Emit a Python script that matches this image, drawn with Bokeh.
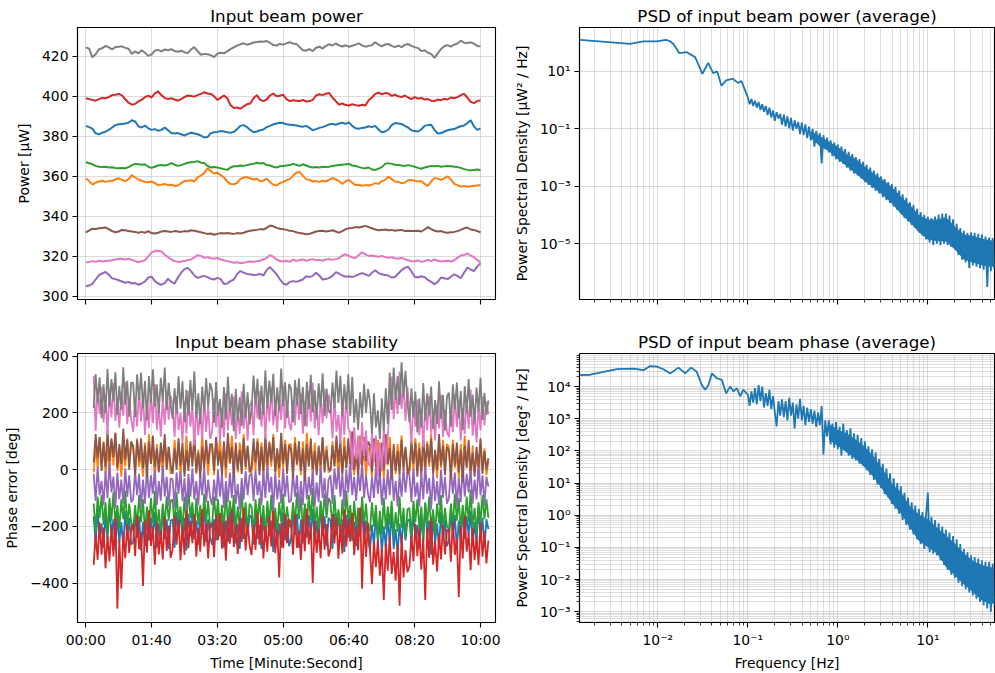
import numpy as np
from bokeh.plotting import figure
from bokeh.layouts import column, row
from bokeh.models import Range1d, FixedTicker, CustomJSTickFormatter
from bokeh.embed import file_html
from bokeh.resources import INLINE

FONT = "DejaVu Sans"
COLORS = ["#1f77b4", "#ff7f0e", "#2ca02c", "#d62728", "#9467bd", "#8c564b", "#e377c2", "#7f7f7f"]

# ---------------- data: input beam power (uW), sampled every 5 s ----------------
power_t = np.arange(0, 601, 5)
power_blue = [385.2, 384.6, 383.8, 381.5, 381.0, 381.8, 382.3, 383.2, 384.4, 385.6,
              386.0, 386.2, 386.4, 386.8, 388.0, 387.4, 385.0, 384.4, 385.4, 384.0,
              383.2, 383.6, 382.8, 383.2, 384.4, 383.0, 381.6, 381.4, 381.6, 381.0,
              380.4, 381.2, 381.8, 381.4, 381.0, 380.4, 379.4, 379.6, 381.6, 382.0,
              382.2, 382.6, 382.4, 382.0, 381.8, 382.2, 383.6, 385.2, 385.6, 384.6,
              383.2, 382.0, 382.4, 383.0, 383.4, 384.6, 385.2, 386.0, 386.4, 386.8,
              386.6, 386.0, 385.8, 385.6, 385.4, 385.0, 384.8, 385.2, 384.2, 383.0,
              383.6, 384.2, 384.6, 385.2, 386.0, 386.2, 385.8, 386.4, 386.8, 386.2,
              387.0, 385.2, 384.0, 383.8, 384.2, 384.4, 385.0, 384.6, 385.2, 383.4,
              382.0, 382.4, 383.4, 385.6, 386.6, 386.4, 386.2, 385.2, 384.4, 383.0,
              382.6, 382.4, 383.4, 385.2, 385.6, 385.8, 383.2, 381.4, 381.6, 382.4,
              383.0, 383.4, 383.6, 384.4, 385.0, 385.4, 386.6, 388.0, 385.0, 383.2,
              384.0]
power_orange = [359.0, 357.6, 355.8, 356.8, 357.4, 357.8, 357.2, 357.6, 357.8, 358.4,
                359.0, 358.2, 357.6, 358.6, 360.6, 359.4, 358.4, 357.8, 357.2, 357.0,
                357.4, 356.6, 355.6, 355.8, 356.2, 355.6, 355.8, 355.2, 355.4, 356.6,
                357.6, 357.8, 358.0, 357.4, 359.4, 360.4, 361.6, 364.0, 362.6, 361.4,
                361.8, 360.6, 359.4, 357.4, 356.2, 356.0, 356.6, 358.6, 359.4, 359.6,
                359.0, 358.4, 358.8, 357.6, 357.8, 358.8, 357.2, 355.8, 355.4, 356.6,
                357.2, 358.0, 358.6, 360.2, 361.8, 362.2, 360.2, 358.6, 358.2, 357.4,
                357.6, 357.2, 357.8, 357.4, 358.2, 359.2, 358.4, 357.6, 356.2, 357.4,
                358.2, 356.8, 355.6, 355.8, 355.2, 355.6, 355.4, 355.8, 356.6, 356.2,
                357.6, 358.2, 359.8, 358.6, 357.4, 357.2, 356.6, 356.8, 358.0, 358.2,
                357.8, 357.4, 357.6, 356.2, 355.2, 357.4, 359.2, 358.8, 358.2, 359.0,
                360.0, 358.4, 356.2, 355.6, 354.8, 355.2, 354.8, 355.0, 355.2, 355.4,
                355.6]
power_green = [367.0, 366.5, 366.0, 365.2, 364.8, 364.6, 364.8, 364.4, 364.5, 364.2,
               364.0, 364.1, 364.0, 364.6, 365.6, 366.2, 366.0, 365.8, 366.0, 364.8,
               364.2, 364.8, 365.4, 365.6, 365.4, 365.8, 366.6, 365.8, 365.2, 365.6,
               366.2, 366.8, 367.0, 367.2, 367.6, 366.8, 366.6, 365.2, 364.4, 364.6,
               364.4, 364.0, 363.6, 363.2, 364.4, 365.0, 365.0, 365.4, 365.2, 365.6,
               366.0, 366.2, 366.8, 366.4, 366.6, 365.6, 365.4, 364.8, 364.4, 365.0,
               365.2, 365.4, 365.6, 366.2, 365.8, 365.2, 366.0, 365.4, 364.8, 364.4,
               364.6, 364.4, 364.8, 364.6, 364.8, 365.2, 365.4, 365.6, 365.8, 366.0,
               366.2, 365.4, 365.2, 364.6, 364.2, 364.0, 364.4, 363.4, 363.2, 363.8,
               364.6, 366.2, 366.6, 366.2, 365.8, 365.6, 365.4, 365.2, 365.6, 365.2,
               364.8, 364.2, 363.8, 364.4, 364.8, 365.2, 365.0, 365.2, 364.8, 365.0,
               365.2, 365.0, 364.8, 364.6, 364.2, 363.6, 363.2, 363.0, 363.2, 363.4,
               363.0]
power_red = [399.0, 398.6, 398.2, 397.8, 398.6, 399.2, 399.0, 399.6, 400.6, 400.8,
             401.2, 400.5, 398.5, 396.8, 395.8, 396.2, 397.5, 398.2, 399.6, 400.3,
             399.4, 401.5, 402.4, 400.5, 399.2, 398.6, 399.0, 398.4, 397.8, 398.6,
             399.6, 400.4, 400.2, 399.8, 400.6, 401.2, 402.0, 401.4, 401.2, 400.0,
             398.2, 399.2, 400.4, 399.0, 395.6, 394.2, 394.4, 393.8, 395.0, 396.0,
             396.4, 399.0, 400.6, 398.2, 397.6, 398.4, 400.4, 401.4, 400.0, 400.3,
             400.8, 398.6, 397.6, 398.0, 397.8, 397.6, 398.2, 397.4, 397.6, 398.2,
             400.4, 401.0, 400.6, 401.3, 401.6, 399.4, 397.6, 395.8, 396.4, 395.6,
             395.4, 396.0, 395.6, 395.2, 395.8, 395.4, 398.0, 399.4, 401.2, 401.8,
             401.0, 401.6, 401.4, 400.2, 400.8, 400.0, 399.6, 400.4, 399.4, 398.6,
             399.6, 398.8, 399.2, 398.4, 398.6, 397.8, 397.6, 398.4, 398.0, 398.8,
             398.4, 399.4, 399.0, 399.6, 400.6, 401.2, 399.4, 397.2, 396.6, 397.6,
             398.0]
power_purple = [305.0, 305.4, 306.2, 308.4, 310.6, 311.4, 312.2, 310.8, 309.0, 308.6,
                308.0, 307.4, 306.8, 307.2, 306.4, 306.6, 305.8, 306.4, 307.4, 309.4,
                309.8, 307.6, 306.4, 305.8, 306.6, 308.8, 307.2, 306.4, 309.4, 311.8,
                313.6, 314.2, 312.6, 310.4, 309.2, 309.8, 310.2, 309.6, 308.8, 308.4,
                309.2, 308.6, 306.2, 306.4, 307.6, 308.4, 311.2, 312.6, 311.8, 311.2,
                311.0, 310.6, 310.8, 311.2, 310.4, 313.2, 314.6, 312.8, 311.0, 308.6,
                306.4, 305.8, 307.2, 307.6, 307.2, 307.8, 308.4, 310.0, 309.6, 310.2,
                311.8, 310.4, 308.4, 308.6, 309.2, 310.2, 312.0, 311.4, 310.4, 309.8,
                310.0, 309.6, 310.2, 311.0, 311.6, 311.0, 310.2, 311.8, 313.0, 311.6,
                311.0, 310.6, 310.4, 309.4, 309.6, 311.4, 313.0, 314.2, 314.8, 312.4,
                309.8, 309.4, 310.0, 309.6, 308.2, 307.2, 306.0, 307.2, 309.4, 309.0,
                308.6, 309.8, 311.0, 310.2, 309.0, 311.8, 314.4, 313.4, 312.6, 314.8,
                316.6]
power_brown = [332.0, 332.8, 333.8, 333.6, 334.0, 334.2, 334.4, 333.6, 332.6, 332.0,
               332.4, 333.2, 333.0, 332.6, 332.4, 332.2, 331.8, 332.2, 331.8, 332.6,
               331.6, 331.4, 331.8, 332.4, 332.6, 332.4, 332.2, 332.6, 332.4, 332.2,
               332.6, 332.4, 333.0, 332.8, 332.4, 332.0, 331.6, 331.2, 331.4, 330.8,
               331.2, 331.6, 331.4, 331.6, 331.4, 331.2, 331.6, 331.4, 331.8, 332.4,
               332.8, 333.0, 333.2, 333.6, 333.4, 334.2, 335.4, 335.0, 334.2, 333.8,
               333.6, 333.2, 332.8, 332.6, 332.0, 331.6, 331.4, 331.0, 331.2, 331.8,
               332.4, 332.6, 332.8, 332.4, 332.6, 333.0, 332.4, 331.8, 332.6, 333.6,
               334.0, 334.2, 334.6, 334.4, 334.8, 335.2, 334.6, 334.0, 333.4, 333.0,
               333.2, 333.4, 333.0, 333.2, 332.8, 333.0, 333.2, 332.6, 332.8, 332.6,
               332.6, 332.8, 332.4, 333.4, 334.6, 333.6, 332.8, 332.4, 332.6, 332.0,
               331.8, 332.0, 332.2, 332.6, 333.2, 334.0, 334.4, 333.4, 333.2, 332.6,
               332.0]
power_pink = [317.0, 317.2, 317.6, 317.2, 317.8, 317.4, 317.6, 317.8, 318.0, 318.4,
              318.8, 318.6, 318.4, 318.8, 318.2, 317.6, 317.0, 317.6, 318.0, 320.0,
              321.8, 322.6, 322.8, 322.4, 320.8, 319.6, 318.4, 317.6, 317.2, 317.4,
              317.6, 318.0, 318.4, 319.4, 320.6, 320.2, 319.2, 319.6, 319.0, 318.8,
              319.2, 318.4, 318.0, 317.6, 317.2, 316.8, 317.0, 316.6, 316.8, 317.2,
              317.4, 317.2, 317.6, 317.8, 318.4, 319.2, 320.6, 319.8, 318.4, 317.6,
              317.4, 317.8, 317.2, 318.4, 317.6, 318.2, 318.4, 317.8, 318.2, 318.6,
              318.0, 318.2, 317.8, 318.4, 318.6, 318.2, 318.6, 319.0, 320.4, 321.0,
              320.2, 319.4, 319.2, 320.6, 322.0, 321.0, 320.2, 320.4, 320.0, 319.8,
              320.2, 319.6, 319.2, 319.6, 319.0, 318.8, 319.2, 318.6, 318.0, 317.6,
              317.4, 318.0, 317.2, 317.6, 318.2, 317.6, 318.4, 317.8, 317.4, 317.6,
              317.8, 317.4, 318.0, 319.2, 320.4, 320.6, 321.4, 320.4, 319.6, 318.2,
              317.0]
power_gray = [424.5, 423.8, 419.5, 421.0, 423.5, 424.0, 425.2, 424.5, 423.5, 424.6,
              424.8, 425.0, 424.2, 423.8, 421.2, 422.5, 421.5, 423.0, 421.8, 420.2,
              421.0, 422.8, 423.2, 422.5, 423.4, 423.0, 423.6, 422.6, 422.3, 422.8,
              422.0, 421.6, 423.5, 424.6, 422.5, 420.8, 421.2, 421.0, 420.6, 419.6,
              421.3, 421.8, 421.5, 422.5, 423.6, 424.5, 425.3, 426.0, 426.5, 425.8,
              426.3, 426.9, 427.2, 427.4, 427.3, 427.6, 426.8, 425.6, 425.4, 426.2,
              425.8, 426.5, 427.0, 426.4, 426.2, 424.6, 423.0, 422.8, 423.6, 422.6,
              424.3, 424.8, 423.9, 425.2, 426.0, 425.4, 426.4, 425.5, 424.9, 425.5,
              424.8, 425.3, 425.8, 426.5, 425.5, 424.8, 425.2, 425.6, 427.0, 425.8,
              425.0, 425.9, 426.2, 425.2, 424.6, 425.3, 424.6, 425.8, 426.1, 425.2,
              424.6, 424.1, 422.6, 423.0, 421.8, 421.2, 419.2, 421.5, 423.6, 425.0,
              425.6, 424.8, 425.8, 426.4, 427.8, 426.8, 426.6, 427.0, 426.3, 425.2,
              425.0]

# ---------------- data: input beam phase error (deg), sampled every 3 s ----------------
phase_t = np.arange(12, 613, 3)
phase_blue = [-165, -260, -140, -240, -190, -275, -155, -250, -125, -230, -175, -285, -160, -255, -185, -270, -145, -245, -170, -265,
              -255, -155, -240, -165, -285, -185, -270, -140, -250, -170, -235, -150, -275, -190, -260, -135, -245, -175, -280, -180,
              -175, -275, -150, -225, -145, -250, -170, -285, -155, -235, -135, -245, -180, -265, -160, -230, -130, -255, -175, -240,
              -265, -175, -250, -140, -235, -155, -275, -180, -255, -150, -240, -125, -260, -190, -280, -170, -245, -145, -230, -160,
              -170, -265, -145, -245, -195, -280, -160, -255, -130, -235, -180, -290, -165, -260, -190, -275, -150, -250, -175, -270,
              -245, -145, -230, -155, -275, -175, -260, -130, -240, -160, -225, -140, -265, -180, -250, -125, -235, -165, -270, -170,
              -180, -280, -155, -230, -150, -255, -175, -290, -160, -240, -140, -250, -185, -270, -165, -235, -135, -260, -180, -245,
              -285, -195, -270, -160, -255, -175, -295, -200, -275, -170, -260, -145, -280, -210, -300, -190, -265, -165, -250, -180,
              -175, -265, -145, -245, -195, -280, -160, -255, -120, -235, -180, -300, -165, -260, -190, -275, -150, -250, -175, -270,
              -250, -150, -235, -160, -280, -180, -265, -135, -245, -165, -230, -145, -270, -185, -255, -130, -240, -170, -275, -175,
              -210]
phase_orange = [-10, 80, 5, 115, 20, 100, -20, 75, 0, 105, 15, 130, -5, 65, -25, 85, 10, 110, 25, 95,
                85, -10, 110, 10, 60, -25, 95, 0, 125, 20, 75, -35, 90, -5, 65, -20, 105, 5, 80, -15,
                5, 105, 20, 95, -25, 75, -10, 120, 10, 90, 25, 110, -15, 70, 0, 125, 15, 85, -20, 80,
                80, -20, 105, 30, 110, 5, 85, -30, 100, 20, 120, 10, 75, -10, 95, 25, 125, 0, 80, 15,
                -15, 75, 0, 110, 15, 95, -25, 70, -5, 100, 10, 125, -10, 60, -30, 80, 5, 105, 20, 90,
                90, -5, 115, 15, 65, -20, 100, 5, 130, 25, 80, -30, 95, 0, 70, -15, 110, 10, 85, -10,
                0, 100, 15, 90, -30, 70, -15, 115, 5, 85, 20, 105, -20, 65, -5, 120, 10, 80, -25, 75,
                75, -25, 100, 25, 105, 0, 80, -35, 95, 15, 115, 5, 70, -15, 90, 20, 120, -5, 75, 10,
                -15, 75, 0, 110, 15, 95, -25, 70, -5, 100, 10, 125, -10, 60, -30, 80, 5, 105, 20, 90,
                80, -15, 105, 5, 55, -30, 90, -5, 120, 15, 70, -40, 85, -10, 60, -25, 100, 0, 75, -20,
                30]
phase_green = [-120, -220, -95, -170, -90, -195, -115, -230, -100, -180, -80, -190, -125, -210, -105, -175, -75, -200, -120, -185,
               -215, -125, -200, -90, -185, -105, -225, -130, -205, -100, -190, -75, -210, -140, -230, -120, -195, -95, -180, -110,
               -105, -200, -80, -180, -130, -215, -95, -190, -65, -170, -115, -225, -100, -195, -125, -210, -85, -185, -110, -205,
               -195, -95, -180, -105, -225, -125, -210, -80, -190, -110, -175, -90, -215, -130, -200, -75, -185, -115, -220, -120,
               -130, -230, -105, -180, -100, -205, -125, -240, -110, -190, -90, -200, -135, -220, -115, -185, -85, -210, -130, -195,
               -205, -115, -190, -80, -175, -95, -215, -120, -195, -90, -180, -65, -200, -130, -220, -110, -185, -85, -170, -100,
               -115, -210, -90, -190, -140, -225, -105, -200, -75, -180, -125, -235, -110, -205, -135, -220, -95, -195, -120, -215,
               -215, -115, -200, -125, -245, -145, -230, -100, -210, -130, -195, -110, -235, -150, -220, -95, -205, -135, -240, -140,
               -135, -235, -110, -185, -105, -210, -130, -245, -115, -195, -95, -205, -140, -225, -120, -190, -90, -215, -135, -200,
               -210, -120, -195, -85, -180, -100, -220, -125, -200, -95, -185, -70, -205, -135, -225, -115, -190, -90, -175, -105,
               -170]
phase_red = [-336, -228, -318, -186, -300, -204, -348, -234, -324, -198, -306, -168, -490, -246, -420, -222, -312, -192, -294, -210,
             -191, -305, -161, -281, -221, -410, -179, -293, -143, -269, -203, -335, -185, -299, -215, -317, -167, -287, -197, -311,
             -283, -163, -265, -175, -319, -199, -301, -145, -277, -181, -259, -157, -307, -205, -289, -139, -271, -187, -313, -193,
             -189, -309, -159, -249, -153, -279, -183, -321, -165, -261, -141, -273, -195, -297, -171, -255, -135, -285, -189, -267,
             -301, -193, -283, -151, -265, -169, -313, -199, -289, -163, -271, -133, -295, -211, -380, -187, -277, -157, -259, -175,
             -186, -300, -156, -276, -216, -318, -174, -288, -138, -264, -198, -400, -180, -294, -210, -312, -162, -282, -192, -306,
             -278, -158, -260, -170, -314, -194, -296, -140, -272, -176, -254, -152, -302, -200, -284, -134, -420, -182, -308, -188,
             -284, -404, -254, -344, -248, -374, -278, -460, -260, -356, -236, -368, -290, -392, -266, -480, -230, -380, -284, -362,
             -341, -233, -323, -191, -305, -209, -353, -239, -460, -203, -311, -173, -335, -251, -359, -227, -317, -197, -299, -215,
             -211, -325, -181, -301, -241, -450, -199, -313, -163, -289, -223, -355, -205, -319, -235, -337, -187, -307, -217, -331,
             -250]
phase_purple = [-15, -110, 10, -90, -40, -125, -5, -100, 25, -80, -25, -135, -10, -105, -35, -120, 5, -95, -20, -115,
                -105, -5, -90, -15, -135, -35, -120, 10, -100, -20, -85, 0, -125, -40, -110, 15, -95, -25, -130, -30,
                -35, -135, -10, -85, -5, -110, -30, -145, -15, -95, 5, -105, -40, -125, -20, -90, 10, -115, -35, -100,
                -125, -35, -110, 0, -95, -15, -135, -40, -115, -10, -100, 15, -120, -50, -140, -30, -105, -5, -90, -20,
                -15, -110, 0, -90, -40, -125, -5, -100, 15, -80, -25, -145, -10, -105, -35, -120, 5, -95, -20, -115,
                -110, -10, -95, -20, -140, -40, -125, 5, -105, -25, -90, -5, -130, -45, -115, 10, -100, -30, -135, -35,
                -20, -120, 5, -70, 10, -95, -15, -130, 0, -80, 20, -90, -25, -110, -5, -75, 25, -100, -20, -85,
                -115, -25, -100, 10, -85, -5, -125, -30, -105, 0, -90, 25, -110, -40, -130, -20, -95, 5, -80, -10,
                -20, -115, 5, -95, -45, -130, -10, -105, 20, -85, -30, -140, -15, -110, -40, -125, 0, -100, -25, -120,
                -100, 0, -85, -10, -130, -30, -115, 15, -95, -15, -80, 5, -120, -35, -105, 20, -90, -20, -125, -25,
                -60]
phase_brown = [25, 125, 40, 115, -5, 95, 10, 140, 30, 110, 45, 130, 5, 90, 20, 145, 35, 105, 0, 100,
               80, -20, 105, 30, 110, 5, 85, -30, 100, 20, 120, 10, 75, -10, 95, 25, 125, 0, 80, 15,
               -15, 75, 0, 110, 15, 95, -25, 70, -5, 100, 10, 125, -10, 60, -30, 80, 5, 105, 20, 90,
               90, -5, 115, 15, 65, -20, 100, 5, 130, 25, 80, -30, 95, 0, 70, -15, 110, 10, 85, -10,
               10, 110, 25, 100, -20, 80, -5, 125, 15, 95, 30, 115, -10, 75, 5, 130, 20, 90, -15, 85,
               70, -30, 95, 20, 100, -5, 75, -40, 90, 10, 110, 0, 65, -20, 85, 15, 115, -10, 70, 5,
               -5, 85, 10, 120, 25, 105, -15, 80, 5, 110, 20, 135, 0, 70, -20, 90, 15, 115, 30, 100,
               85, -10, 110, 10, 60, -25, 95, 0, 125, 20, 75, -35, 90, -5, 65, -20, 105, 5, 80, -15,
               5, 105, 20, 95, -25, 75, -10, 120, 10, 90, 25, 110, -15, 70, 0, 125, 15, 85, -20, 80,
               65, -35, 90, 15, 95, -10, 70, -45, 85, 5, 105, -5, 60, -25, 80, 10, 110, -15, 65, 0,
               40]
phase_pink = [330, 136, 286, 196, 292, 166, 262, 124, 280, 184, 304, 172, 250, 148, 274, 190, 310, 160, 256, 178,
              134, 242, 152, 284, 170, 266, 122, 236, 146, 272, 164, 302, 140, 224, 116, 248, 158, 278, 176, 260,
              229, 115, 259, 139, 199, 97, 241, 127, 277, 151, 217, 85, 235, 121, 205, 103, 253, 133, 223, 109,
              132, 252, 150, 240, 96, 216, 114, 270, 138, 234, 156, 258, 108, 210, 126, 276, 144, 228, 102, 222,
              241, 121, 271, 181, 277, 151, 247, 109, 265, 169, 289, 157, 235, 133, 259, 175, 295, 145, 241, 163,
              139, 247, 157, 289, 175, 271, 127, 241, 151, 277, 169, 307, 145, 229, 121, 253, 163, 283, 181, 265,
              224, 110, 254, 134, 194, 92, 236, 122, 272, 146, 132, 0, 150, 36, 120, 18, 168, 48, 138, 24,
              12, 132, 30, 120, -24, 96, -6, 150, 18, 114, 226, 328, 178, 280, 196, 346, 214, 298, 172, 292,
              211, 91, 241, 151, 247, 121, 217, 79, 235, 139, 259, 127, 205, 103, 229, 145, 265, 115, 211, 133,
              114, 222, 132, 264, 150, 246, 102, 216, 126, 252, 144, 282, 120, 204, 96, 228, 138, 258, 156, 240,
              196]
phase_gray = [217, 337, 235, 325, 181, 301, 199, 355, 223, 319, 241, 343, 193, 295, 211, 361, 229, 313, 187, 307,
              306, 186, 336, 246, 342, 216, 312, 174, 330, 234, 354, 222, 300, 198, 324, 240, 360, 210, 306, 228,
              179, 287, 197, 329, 215, 311, 167, 281, 191, 317, 209, 347, 185, 269, 161, 293, 203, 323, 221, 305,
              279, 165, 309, 189, 249, 147, 291, 177, 327, 201, 267, 135, 285, 171, 255, 153, 303, 183, 273, 159,
              212, 332, 230, 320, 176, 296, 194, 350, 218, 314, 236, 338, 188, 290, 206, 356, 224, 308, 182, 302,
              286, 166, 316, 226, 322, 196, 292, 154, 310, 214, 334, 202, 280, 178, 304, 220, 340, 190, 286, 208,
              199, 307, 217, 349, 235, 331, 187, 301, 211, 337, 189, 327, 165, 249, 141, 273, 183, 303, 201, 285,
              239, 125, 269, 149, 209, 107, 251, 137, 287, 161, 342, 210, 360, 246, 330, 228, 378, 258, 348, 234,
              167, 287, 185, 275, 131, 251, 149, 305, 173, 269, 191, 293, 143, 245, 161, 311, 179, 263, 137, 257,
              271, 151, 301, 211, 307, 181, 277, 139, 295, 199, 319, 187, 265, 163, 289, 205, 325, 175, 271, 193,
              244]

# ---------------- data: PSDs ----------------
power_psd_lf_f = [0.00137, 0.00493, 0.00692, 0.00977, 0.01227, 0.01349, 0.01493, 0.01726,
                  0.02099, 0.0260, 0.03133, 0.03631, 0.04121, 0.04571, 0.05093, 0.05754,
                  0.06823, 0.07762, 0.08511]
power_psd_lf_v = [126, 91, 112, 112, 126, 115, 91, 43.6, 46.8, 31.6, 8.3, 20, 8.7, 10.2,
                  3.2, 4.9, 5.6, 4.0, 4.6]
phase_psd_lf_f = [0.00137, 0.00178, 0.0035, 0.00537, 0.00693, 0.00822, 0.00975, 0.01156,
                  0.01371, 0.01698, 0.02014, 0.02344, 0.02710, 0.03083, 0.03357, 0.03656,
                  0.03981, 0.04529, 0.05140, 0.05741, 0.06368, 0.06934, 0.07551, 0.08222,
                  0.08913]
phase_psd_lf_v = [22900, 23400, 34700, 36300, 32400, 43600, 41700, 34700, 25700, 38900,
                  25700, 38900, 28800, 11200, 7940, 11200, 25700, 18200, 16200, 6170,
                  10000, 7080, 8910, 5010, 7940]
psd_hf_f = 10 ** np.linspace(-1.0, 1.74, 138)
power_psd_hf_log10 = [0.10, -0.14, 0.04, -0.20, -0.02, -0.26, -0.06, -0.34, -0.14, -0.40,
                      -0.20, -0.52, -0.26, -0.60, -0.36, -0.72, -0.42, -0.64, -0.48, -0.86,
                      -0.50, -0.92, -0.56, -0.98, -0.62, -1.06, -0.70, -1.00, -0.76, -1.18,
                      -0.78, -1.22, -0.84, -1.32, -0.92, -1.40, -1.00, -1.62, -1.08, -1.50,
                      -1.15, -2.20, -1.22, -1.70, -1.30, -1.82, -1.40, -1.95, -1.48, -2.05,
                      -1.55, -2.15, -1.62, -2.22, -1.70, -2.35, -1.80, -2.45, -1.88, -2.55,
                      -1.98, -2.62, -2.05, -2.72, -2.15, -2.85, -2.25, -2.95, -2.35, -3.05,
                      -2.45, -3.15, -2.55, -3.25, -2.65, -3.38, -2.75, -3.48, -2.85, -3.58,
                      -2.92, -3.70, -3.02, -3.82, -3.15, -3.95, -3.28, -4.10, -3.40, -4.22,
                      -3.55, -4.35, -3.65, -4.45, -3.78, -4.60, -3.90, -4.72, -4.00, -4.85,
                      -4.05, -4.95, -4.10, -5.05, -4.05, -5.00, -3.98, -5.05, -3.95, -5.00,
                      -3.95, -5.05, -4.02, -5.10, -4.15, -5.20, -4.30, -5.40, -4.45, -5.55,
                      -4.55, -5.65, -4.62, -5.85, -4.60, -5.75, -4.62, -5.80, -4.65, -5.85,
                      -4.68, -5.90, -4.75, -6.50, -4.78, -5.95, -4.80, -5.90]
phase_psd_hf_log10 = [3.75, 3.40, 3.85, 3.50, 3.95, 3.45, 4.05, 3.55, 4.00, 3.35,
                      3.80, 3.40, 3.90, 3.30, 3.70, 3.20, 2.76, 3.55, 3.10, 3.60,
                      3.05, 3.55, 2.95, 3.65, 3.10, 3.50, 2.70, 3.45, 3.00, 3.62,
                      2.95, 3.40, 2.80, 3.35, 2.90, 3.30, 2.85, 3.25, 2.75, 3.20,
                      2.80, 3.40, 1.89, 2.95, 2.45, 2.95, 2.20, 2.85, 2.10, 2.90,
                      2.05, 2.75, 1.85, 2.85, 2.00, 2.65, 1.85, 2.70, 1.75, 2.55,
                      1.70, 2.50, 1.60, 2.40, 1.55, 2.30, 1.40, 2.15, 1.25, 2.05,
                      1.10, 1.95, 0.95, 1.75, 0.85, 1.60, 0.65, 1.45, 0.55, 1.30,
                      0.35, 1.15, 0.20, 1.00, 0.05, 0.90, -0.15, 0.70, -0.30, 0.55,
                      -0.45, 0.40, -0.60, 0.30, -0.75, 0.20, -0.90, 0.10, -1.05, 0.00,
                      0.70, -1.15, -0.05, -1.20, -0.15, -1.25, -0.25, -1.40, -0.35, -1.55,
                      -0.45, -1.70, -0.55, -1.85, -0.65, -1.95, -0.75, -2.10, -0.90, -2.20,
                      -1.05, -2.30, -1.15, -2.40, -1.25, -2.50, -1.30, -2.60, -1.35, -2.70,
                      -1.40, -2.80, -1.45, -2.90, -1.45, -3.00, -1.50, -2.85]
power_band_logf = [-0.3, -0.2, -0.1, 0.0, 0.1, 0.2, 0.3, 0.4, 0.5, 0.6, 0.7,
                   0.8, 0.9, 1.0, 1.1, 1.2, 1.3, 1.4, 1.5, 1.6, 1.7, 1.74]
power_band_hi = [-1.08, -1.25, -1.45, -1.62, -1.88, -2.05, -2.32, -2.55, -2.78, -3.02, -3.35,
                 -3.65, -4.00, -4.15, -4.15, -4.08, -4.40, -4.68, -4.72, -4.82, -4.88, -4.90]
power_band_lo = [-1.32, -1.60, -1.78, -2.05, -2.30, -2.55, -2.82, -3.05, -3.30, -3.60, -3.95,
                 -4.25, -4.60, -4.85, -4.90, -4.92, -5.20, -5.55, -5.65, -5.75, -5.80, -5.80]
phase_band_logf = [-0.1, 0.0, 0.1, 0.2, 0.3, 0.4, 0.5, 0.6, 0.7, 0.8,
                   0.9, 1.0, 1.1, 1.2, 1.3, 1.4, 1.5, 1.6, 1.7, 1.74]
phase_band_hi = [2.85, 2.65, 2.55, 2.35, 2.12, 1.82, 1.42, 0.98, 0.72, 0.28,
                 0.02, -0.12, -0.38, -0.62, -0.88, -1.18, -1.42, -1.55, -1.62, -1.62]
phase_band_lo = [2.35, 2.15, 1.95, 1.75, 1.48, 1.18, 0.78, 0.38, 0.05, -0.38,
                 -0.80, -1.00, -1.18, -1.60, -1.88, -2.15, -2.40, -2.65, -2.78, -2.72]

# ---------------- ticks ----------------
time_ticks = [0, 100, 200, 300, 400, 500, 600]
power_ticks = [300, 320, 340, 360, 380, 400, 420]
phase_ticks = [-400, -200, 0, 200, 400]
freq_ticks = [1e-3, 1e-2, 1e-1, 1e0, 1e1]
psd_power_ticks = [1e-5, 1e-3, 1e-1, 1e1]
psd_phase_ticks = [1e-3, 1e-2, 1e-1, 1e0, 1e1, 1e2, 1e3, 1e4]
freq_minor = [m * 10.0 ** e for e in range(-3, 2) for m in range(2, 10)]
psd_phase_minor = [m * 10.0 ** e for e in range(-4, 5) for m in range(2, 10)]

power_series = [power_blue, power_orange, power_green, power_red,
                power_purple, power_brown, power_pink, power_gray]
phase_series = [phase_blue, phase_orange, phase_green, phase_red,
                phase_purple, phase_brown, phase_pink, phase_gray]


def log_fmt():
    return CustomJSTickFormatter(code=r"""
const e = Math.round(Math.log10(tick));
const sup = ["\u2070", "\u00b9", "\u00b2", "\u00b3", "\u2074", "\u2075", "\u2076", "\u2077", "\u2078", "\u2079"];
let out = "10";
if (e < 0) { out += "\u207b"; }
const digits = String(Math.abs(e));
for (let i = 0; i < digits.length; i++) { out += sup[parseInt(digits[i])]; }
return out;
""")


def minus_fmt():
    return CustomJSTickFormatter(code=r"""
return tick < 0 ? "\u2212" + Math.abs(tick) : String(tick);
""")


def time_fmt():
    return CustomJSTickFormatter(code=r"""
const t = Math.round(tick);
const m = Math.floor(t / 60);
const s = t - 60 * m;
return String(m).padStart(2, "0") + ":" + String(s).padStart(2, "0");
""")


def blank_fmt():
    return CustomJSTickFormatter(code='return "";')


def style(p, title):
    p.title.text = title
    p.title.text_font = FONT
    p.title.text_font_size = "16.7px"
    p.title.text_font_style = "normal"
    p.title.text_color = "black"
    p.title.align = "center"
    p.title.standoff = 3
    p.outline_line_color = "black"
    p.outline_line_width = 1.1
    p.background_fill_color = "white"
    p.border_fill_color = "white"
    for ax in p.axis:
        ax.axis_line_color = "black"
        ax.axis_line_width = 1.1
        ax.major_tick_line_color = "black"
        ax.major_tick_line_width = 1.1
        ax.major_tick_out = 5
        ax.major_tick_in = 0
        ax.minor_tick_line_color = "black"
        ax.minor_tick_line_width = 0.8
        ax.minor_tick_out = 3
        ax.minor_tick_in = 0
        ax.major_label_text_font = FONT
        ax.major_label_text_font_size = "13.9px"
        ax.major_label_text_color = "black"
        ax.major_label_standoff = 4
        ax.axis_label_text_font = FONT
        ax.axis_label_text_font_size = "13.9px"
        ax.axis_label_text_font_style = "normal"
        ax.axis_label_text_color = "black"
        ax.axis_label_standoff = 7
    for g in p.grid:
        g.grid_line_color = "#b0b0b0"
        g.grid_line_alpha = 0.45
        g.grid_line_width = 1


def set_ticker(p, dim, ticker):
    axis = p.xaxis[0] if dim == 0 else p.yaxis[0]
    grid = p.xgrid[0] if dim == 0 else p.ygrid[0]
    axis.ticker = ticker
    grid.ticker = ticker


time_range = Range1d(-12.6, 622.8)
freq_range = Range1d(1.35e-3, 55)

common = dict(output_backend="svg", toolbar_location=None, tools="")

# ---- top-left: input beam power ----
p1 = figure(width=500, height=326, x_range=time_range, y_range=Range1d(298.4, 434.4),
            min_border_left=77, min_border_right=5, min_border_top=27, min_border_bottom=27,
            **common)
for ys, c in zip(power_series, COLORS):
    p1.line(power_t, ys, line_color=c, line_width=2)
style(p1, "Input beam power")
set_ticker(p1, 0, FixedTicker(ticks=time_ticks, minor_ticks=[]))
set_ticker(p1, 1, FixedTicker(ticks=power_ticks, minor_ticks=[]))
p1.xaxis.formatter = blank_fmt()
p1.xaxis.major_label_standoff = 0
p1.yaxis.formatter = minus_fmt()
p1.yaxis.axis_label = "Power [μW]"

# ---- top-right: PSD of power ----
p2 = figure(width=495, height=326, x_axis_type="log", y_axis_type="log",
            x_range=freq_range, y_range=Range1d(1.15e-7, 339),
            min_border_left=79, min_border_right=1, min_border_top=27, min_border_bottom=27,
            **common)
p2.varea(x=10.0 ** np.array(power_band_logf), y1=10.0 ** np.array(power_band_lo),
         y2=10.0 ** np.array(power_band_hi), fill_color=COLORS[0])
p2.line(power_psd_lf_f + list(psd_hf_f),
        power_psd_lf_v + list(10.0 ** np.array(power_psd_hf_log10)),
        line_color=COLORS[0], line_width=1.8)
style(p2, "PSD of input beam power (average)")
set_ticker(p2, 0, FixedTicker(ticks=freq_ticks, minor_ticks=freq_minor))
set_ticker(p2, 1, FixedTicker(ticks=psd_power_ticks, minor_ticks=[]))
p2.xgrid.minor_grid_line_color = "#b0b0b0"
p2.xgrid.minor_grid_line_alpha = 0.4
p2.xaxis.formatter = blank_fmt()
p2.xaxis.major_label_standoff = 0
p2.yaxis.formatter = log_fmt()
p2.yaxis.axis_label = "Power Spectral Density [μW² / Hz]"

# ---- bottom-left: phase stability ----
p3 = figure(width=500, height=347, x_range=time_range, y_range=Range1d(-539, 409.4),
            min_border_left=77, min_border_right=5, min_border_top=27, min_border_bottom=47,
            **common)
for ys, c in zip(phase_series, COLORS):
    p3.line(phase_t, ys, line_color=c, line_width=1.8)
style(p3, "Input beam phase stability")
set_ticker(p3, 0, FixedTicker(ticks=time_ticks, minor_ticks=[]))
set_ticker(p3, 1, FixedTicker(ticks=phase_ticks, minor_ticks=[]))
p3.xaxis.formatter = time_fmt()
p3.yaxis.formatter = minus_fmt()
p3.xaxis.axis_label_standoff = 4
p3.xaxis.axis_label = "Time [Minute:Second]"
p3.yaxis.axis_label = "Phase error [deg]"

# ---- bottom-right: PSD of phase ----
p4 = figure(width=495, height=347, x_axis_type="log", y_axis_type="log",
            x_range=freq_range, y_range=Range1d(4.6e-4, 1.07e5),
            min_border_left=79, min_border_right=1, min_border_top=27, min_border_bottom=47,
            **common)
p4.varea(x=10.0 ** np.array(phase_band_logf), y1=10.0 ** np.array(phase_band_lo),
         y2=10.0 ** np.array(phase_band_hi), fill_color=COLORS[0])
p4.line(phase_psd_lf_f + list(psd_hf_f),
        phase_psd_lf_v + list(10.0 ** np.array(phase_psd_hf_log10)),
        line_color=COLORS[0], line_width=1.8)
style(p4, "PSD of input beam phase (average)")
set_ticker(p4, 0, FixedTicker(ticks=freq_ticks, minor_ticks=freq_minor))
set_ticker(p4, 1, FixedTicker(ticks=psd_phase_ticks, minor_ticks=psd_phase_minor))
p4.xgrid.minor_grid_line_color = "#b0b0b0"
p4.xgrid.minor_grid_line_alpha = 0.4
p4.ygrid.minor_grid_line_color = "#b0b0b0"
p4.ygrid.minor_grid_line_alpha = 0.4
p4.xaxis.formatter = log_fmt()
p4.yaxis.formatter = log_fmt()
p4.xaxis.axis_label_standoff = 4
p4.xaxis.axis_label = "Frequency [Hz]"
p4.yaxis.axis_label = "Power Spectral Density [deg² / Hz]"

layout = column(row(p1, p2), row(p3, p4))
open("out.html", "w").write(file_html(layout, INLINE))
